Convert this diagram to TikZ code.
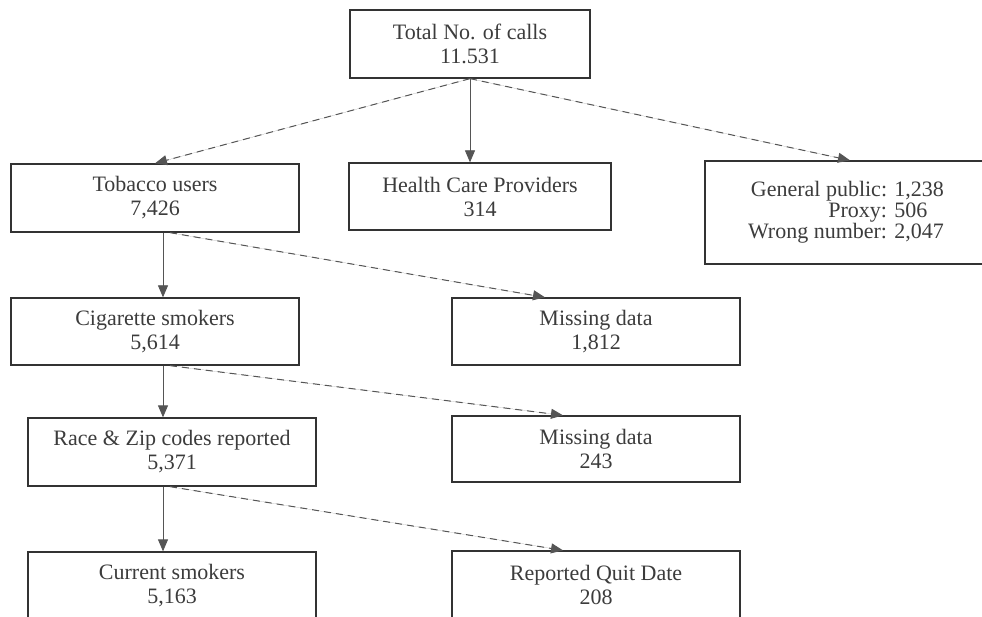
\documentclass[tikz,border=0pt]{standalone}
\usepackage{fontspec}
\setmainfont{Liberation Serif}
\usetikzlibrary{arrows.meta,calc}
\definecolor{txt}{HTML}{3C3C3C}
\definecolor{edge}{HTML}{333333}
\definecolor{conn}{HTML}{555555}
\tikzset{
  box/.style={draw=edge, line width=1.3pt, fill=white, rectangle, minimum height=68pt,
    inner sep=0pt, align=center, text=txt, font=\fontsize{22}{24}\selectfont},
  tip/.style={-{Triangle[length=12pt,width=10pt]}, conn, fill=conn},
  solidarrow/.style={tip, line width=0.8pt},
  dasharrow/.style={tip, line width=1pt, dash pattern=on 7pt off 5pt}
}
\begin{document}
\begin{tikzpicture}[x=1pt,y=-1pt]
\useasboundingbox (0,0) rectangle (982,617);
\clip (0,0) rectangle (982,617);
\fill[white] (0,0) rectangle (982,617);

\node[box, minimum width=240pt] (tot) at (470,44) {Total No. of calls\\11.531};
\node[box, minimum width=288pt] (tob) at (155,198) {Tobacco users\\7,426};
\node[box, minimum width=262pt, minimum height=67pt] (hcp) at (480,196.5) {Health Care Providers\\314};
\node[box, minimum width=282pt, minimum height=103pt] (gen) at (846,212.5)
  {\begin{tabular}{@{}r@{ }l@{}}General public: & 1,238\\[-3pt] Proxy: & 506\\[-3pt] Wrong number: & 2,047\end{tabular}};
\node[box, minimum width=288pt, minimum height=67pt] (miss1) at (596,331.5) {Missing data\\1,812};
\node[box, minimum width=288pt, minimum height=67pt] (cig) at (155,331.5) {Cigarette smokers\\5,614};
\node[box, minimum width=288pt, minimum height=66pt] (miss2) at (596,449) {Missing data\\243};
\node[box, minimum width=288pt] (race) at (172,452) {Race \& Zip codes reported\\5,371};
\node[box, minimum width=288pt] (quit) at (596,585) {Reported Quit Date\\208};
\node[box, minimum width=288pt] (cur) at (172,586) {Current smokers\\5,163};

\draw[dasharrow] (tot.south) -- (tob.north);
\draw[solidarrow] (tot.south) -- (tot.south |- hcp.north);
\draw[dasharrow] (tot.south) -- ([xshift=4pt]gen.north);

\draw[dasharrow] ([xshift=15pt]tob.south) -- ([xshift=-51pt]miss1.north);
\draw[solidarrow] ([xshift=8pt]tob.south) -- ([xshift=8pt]cig.north);

\draw[dasharrow] ([xshift=15pt]cig.south) -- ([xshift=-33pt]miss2.north);
\draw[solidarrow] ([xshift=8pt]cig.south) -- ([xshift=8pt]cig.south |- race.north);

\draw[dasharrow] ([xshift=-2pt]race.south) -- ([xshift=-33pt]quit.north);
\draw[solidarrow] ([xshift=-9pt]race.south) -- ([xshift=-9pt]cur.north);
\end{tikzpicture}
\end{document}
